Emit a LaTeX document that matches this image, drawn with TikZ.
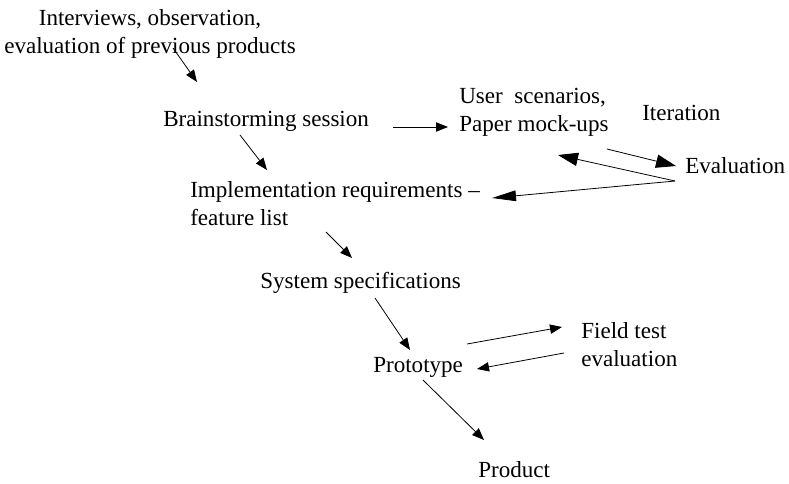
\documentclass[tikz,border=0pt]{standalone}
\usepackage{fontspec}
\setmainfont{Liberation Serif}
\usetikzlibrary{arrows.meta}
\begin{document}
\begin{tikzpicture}[x=0.75pt,y=-0.75pt,
  lbl/.style={inner sep=0pt,font=\fontsize{17.3pt}{21pt}\selectfont},
  arr/.style={line width=0.6pt,-{Triangle[length=9pt,width=7pt]}},
  bigarr/.style={line width=0.6pt,-{Triangle[length=15pt,width=10pt]}},
  longarr/.style={line width=0.6pt,-{Triangle[length=18pt,width=8pt]}}]
\useasboundingbox (0,0) rectangle (789,483);

% text blocks (multi-line blocks are placed by the baseline of their last line)
\node[lbl,anchor=base,align=center] (intv) at (150,53) {Interviews, observation,\\evaluation of previous products};
\node[lbl,anchor=base west] (brain) at (163,126) {Brainstorming session};
\node[lbl,anchor=base west,align=left] (user) at (459,131) {User\ \ scenarios,\\Paper mock-ups};
\node[lbl,anchor=base west] (iter) at (642,120) {Iteration};
\node[lbl,anchor=base west] (evalu) at (685,173) {Evaluation};
\node[lbl,anchor=base west,align=left] (impl) at (190,225) {Implementation requirements –\\feature list};
\node[lbl,anchor=base west] (sys) at (260,288) {System specifications};
\node[lbl,anchor=base west,align=left] (field) at (581,366) {Field test\\evaluation};
\node[lbl,anchor=base west] (proto) at (373,372) {Prototype};
\node[lbl,anchor=base west] (prod) at (478,477) {Product};

% connector end points
\coordinate (a1) at (173,48);   \coordinate (a2) at (197,82);
\coordinate (b1) at (393,127);  \coordinate (b2) at (448,127);
\coordinate (c1) at (240,135);  \coordinate (c2) at (267,170);
\coordinate (d1) at (607,149);  \coordinate (d2) at (676,166);
\coordinate (e0) at (675,181);
\coordinate (e1) at (558,155);  \coordinate (e2) at (492,198);
\coordinate (f1) at (326,232);  \coordinate (f2) at (352,258);
\coordinate (g1) at (375,298);  \coordinate (g2) at (410,350);
\coordinate (h1) at (467,344);  \coordinate (h2) at (562,327);
\coordinate (i1) at (564,353);  \coordinate (i2) at (477,369);
\coordinate (j1) at (423,380);  \coordinate (j2) at (484,440);

% connectors
\draw[arr] (a1) -- (a2);
\draw[arr] (b1) -- (b2);
\draw[arr] (c1) -- (c2);
\draw[bigarr] (d1) -- (d2);
\draw[bigarr] (e0) -- (e1);
\draw[longarr] (e0) -- (e2);
\draw[arr] (f1) -- (f2);
\draw[arr] (g1) -- (g2);
\draw[arr] (h1) -- (h2);
\draw[arr] (i1) -- (i2);
\draw[arr] (j1) -- (j2);
\end{tikzpicture}
\end{document}
